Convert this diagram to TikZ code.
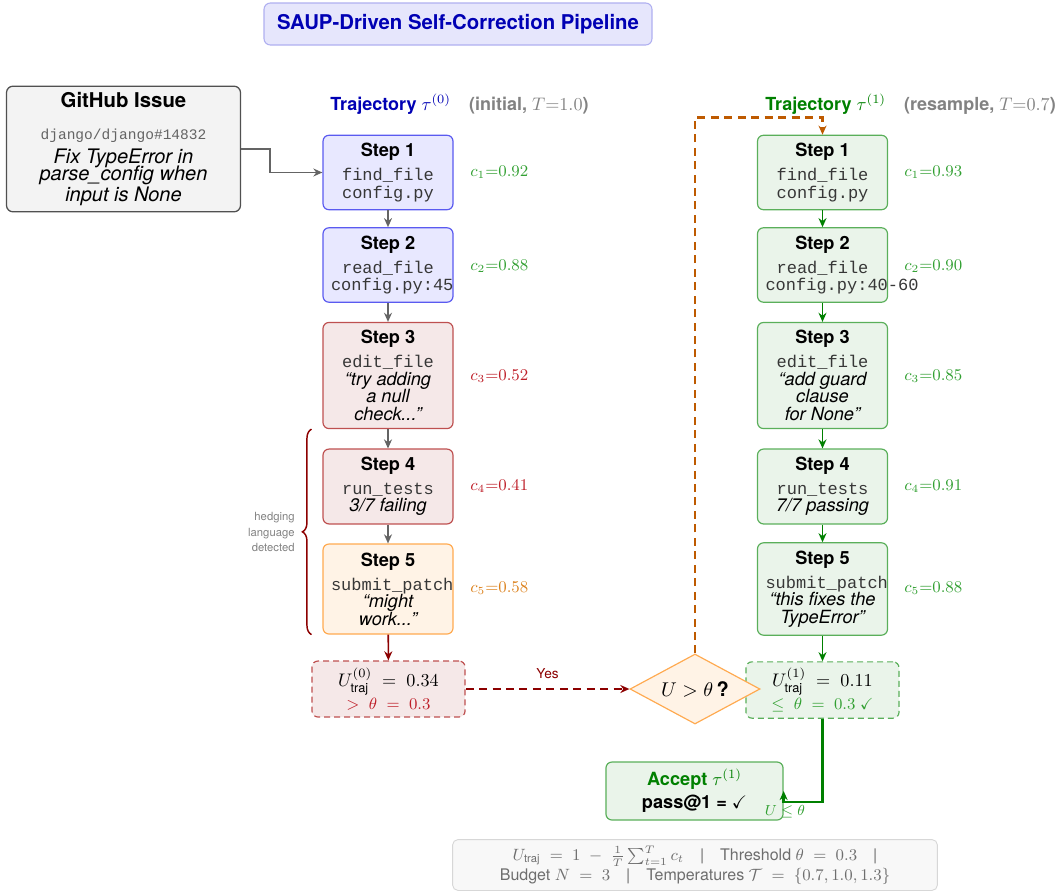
\documentclass[tikz,border=0pt]{standalone}
\usepackage{amsmath}
\usepackage{amssymb}
\usepackage[no-math]{fontspec}
\setmainfont{TeX Gyre Heros}
\setmonofont{Liberation Mono}
\usetikzlibrary{arrows.meta,shapes.geometric,decorations.pathreplacing,calc}

\definecolor{titleblue}{RGB}{0,0,180}
\definecolor{titlefill}{RGB}{230,230,252}
\definecolor{titleline}{RGB}{175,175,240}
\definecolor{issuefill}{RGB}{243,243,243}
\definecolor{issueline}{RGB}{80,80,80}
\definecolor{bluefill}{RGB}{232,232,255}
\definecolor{blueline}{RGB}{90,90,240}
\definecolor{redfill}{RGB}{245,232,232}
\definecolor{redline}{RGB}{190,80,80}
\definecolor{orangefill}{RGB}{255,243,230}
\definecolor{orangeline}{RGB}{255,170,80}
\definecolor{greenfill}{RGB}{234,244,234}
\definecolor{greenline}{RGB}{90,175,90}
\definecolor{cgreen}{RGB}{50,160,50}
\definecolor{cred}{RGB}{190,30,40}
\definecolor{corange}{RGB}{220,130,30}
\definecolor{darkgreen}{RGB}{0,128,0}
\definecolor{darkred}{RGB}{140,0,0}
\definecolor{loopbrown}{RGB}{190,90,0}
\definecolor{flowgray}{RGB}{100,100,100}
\definecolor{headgray}{RGB}{130,130,130}
\definecolor{tooltext}{RGB}{55,55,55}
\definecolor{legendfill}{RGB}{248,248,248}
\definecolor{legendline}{RGB}{215,215,215}
\definecolor{legendtext}{RGB}{110,110,110}

\newcommand{\tool}[1]{\mbox{\fontsize{9.35}{9.6}\selectfont\ttfamily\color{tooltext}#1}}
\newcommand{\tightlines}{\lineskiplimit=-5pt\relax}

\tikzset{
  titlebox/.style={draw=titleline, fill=titlefill, rounded corners=3.5pt, line width=0.6pt,
    minimum width=213.4pt, minimum height=23.1pt, text=titleblue,
    font=\fontsize{11.2}{13}\selectfont\bfseries},
  issuebox/.style={draw=issueline, fill=issuefill, rounded corners=3.5pt, line width=0.7pt,
    text width=122pt, minimum height=66pt, align=flush center, font=\fontsize{11}{9.6}\selectfont},
  stepbox/.style={rounded corners=3.3pt, line width=0.65pt, text width=62.7pt, inner sep=4.4pt,
    align=flush center, font=\fontsize{10}{9.6}\selectfont},
  bluestep/.style={stepbox, draw=blueline, fill=bluefill},
  redstep/.style={stepbox, draw=redline, fill=redfill},
  orangestep/.style={stepbox, draw=orangeline, fill=orangefill},
  greenstep/.style={stepbox, draw=greenline, fill=greenfill},
  header/.style={anchor=west, font=\fontsize{9.9}{11}\selectfont\bfseries},
  clabel/.style={anchor=west, font=\fontsize{9}{10}\selectfont},
  ubox/.style={dashed, dash pattern=on 3.3pt off 2.2pt, rounded corners=3.3pt, line width=0.65pt,
    minimum width=84.2pt, minimum height=30.8pt, align=center, font=\fontsize{10}{11}\selectfont},
  flow/.style={->, line width=0.85pt},
  bigdash/.style={line width=1.4pt, dash pattern=on 4.4pt off 3pt},
}

\begin{document}
\begin{tikzpicture}[x=0.55pt,y=-0.55pt,>={Stealth[length=5pt,width=4.4pt]}]
\useasboundingbox (0,0) rectangle (1057,892);

% title and input
\node[titlebox] (title) at (458,24) {SAUP-Driven Self-Correction Pipeline};
\node[issuebox] (issue) at (123.5,149) {\tightlines{\fontsize{11.2}{12}\selectfont\bfseries GitHub Issue}\\[8pt]
  {\fontsize{8}{9}\selectfont\ttfamily\color{flowgray}django/django\#14832}\\[3.5pt]
  \itshape Fix TypeError in\\parse\_config when\\input is None};

% headers
\node[header] (head0) at (324,104) {{\color{titleblue}Trajectory $\tau^{(0)}$}\quad{\color{headgray}(initial, $T{=}1.0$)}};
\node[header] (head1) at (759,104) {{\color{darkgreen}Trajectory $\tau^{(1)}$}\quad{\color{headgray}(resample, $T{=}0.7$)}};

% initial trajectory
\node[bluestep, minimum height=39pt] (a1) at (388,172.5) {\tightlines{\bfseries Step 1}\\[3.6pt]\tool{find\_file}\\\tool{config.py}};
\node[bluestep, minimum height=38.5pt] (a2) at (388,265) {\tightlines{\bfseries Step 2}\\[3.6pt]\tool{read\_file}\\\tool{config.py:45}};
\node[redstep, minimum height=57.75pt] (a3) at (388,375.5) {\tightlines{\bfseries Step 3}\\[3.6pt]\tool{edit\_file}\\\itshape ``try adding\\a null\\check...''};
\node[redstep, minimum height=39pt] (a4) at (388,486.5) {\tightlines{\bfseries Step 4}\\[3.6pt]\tool{run\_tests}\\\itshape 3/7 failing};
\node[orangestep, minimum height=49.5pt] (a5) at (388,589) {\tightlines{\bfseries Step 5}\\[3.6pt]\tool{submit\_patch}\\\itshape ``might\\work...''};

\node[clabel, text=cgreen] (ca1) at (464,172) {$c_1{=}0.92$};
\node[clabel, text=cgreen] (ca2) at (464,266) {$c_2{=}0.88$};
\node[clabel, text=cred] (ca3) at (464,376) {$c_3{=}0.52$};
\node[clabel, text=cred] (ca4) at (464,486) {$c_4{=}0.41$};
\node[clabel, text=corange] (ca5) at (464,588) {$c_5{=}0.58$};

% resampled trajectory
\node[greenstep, minimum height=39pt] (b1) at (822.5,172.5) {\tightlines{\bfseries Step 1}\\[3.6pt]\tool{find\_file}\\\tool{config.py}};
\node[greenstep, minimum height=38.5pt] (b2) at (822.5,265) {\tightlines{\bfseries Step 2}\\[3.6pt]\tool{read\_file}\\\tool{config.py:40-60}};
\node[greenstep, minimum height=57.75pt] (b3) at (822.5,375.5) {\tightlines{\bfseries Step 3}\\[3.6pt]\tool{edit\_file}\\\itshape ``add guard\\clause\\for None''};
\node[greenstep, minimum height=39pt] (b4) at (822.5,486.5) {\tightlines{\bfseries Step 4}\\[3.6pt]\tool{run\_tests}\\\itshape 7/7 passing};
\node[greenstep, minimum height=49.5pt] (b5) at (822.5,589) {\tightlines{\bfseries Step 5}\\[3.6pt]\tool{submit\_patch}\\\itshape ``this fixes the\\TypeError''};

\node[clabel, text=cgreen] (cb1) at (898,172) {$c_1{=}0.93$};
\node[clabel, text=cgreen] (cb2) at (898,266) {$c_2{=}0.90$};
\node[clabel, text=cgreen] (cb3) at (898,376) {$c_3{=}0.85$};
\node[clabel, text=cgreen] (cb4) at (898,486) {$c_4{=}0.91$};
\node[clabel, text=cgreen] (cb5) at (898,588) {$c_5{=}0.88$};

% scores, check, accept
\node[ubox, draw=redline, fill=redfill] (u0) at (388.5,689) {$U^{(0)}_{\text{traj}}\;=\;0.34$\\[1.5pt]{\fontsize{8.8}{9}\selectfont\color{cred}$>\;\theta\;=\;0.3$}};
\node[ubox, draw=greenline, fill=greenfill] (u1) at (822.5,690) {$U^{(1)}_{\text{traj}}\;=\;0.11$\\[1.5pt]{\fontsize{8.8}{9}\selectfont\color{cgreen}$\leq\;\theta\;=\;0.3\;\checkmark$}};
\node[diamond, draw=orangeline, fill=orangefill, line width=0.65pt, aspect=1.86, inner sep=0pt,
  minimum width=71.5pt, minimum height=38.5pt, font=\fontsize{11}{11}\selectfont] (check) at (695,689) {$U>\theta$\,\textbf{?}};
\node[draw=greenline, fill=greenfill, rounded corners=3.3pt, line width=0.65pt, minimum width=97.4pt,
  minimum height=31.9pt, align=center, font=\fontsize{10}{11}\selectfont\bfseries] (accept) at (694.5,791)
  {{\color{darkgreen}Accept $\tau^{(1)}$}\\[2pt]pass@1 = $\checkmark$};

% hedging brace
\draw[darkred, line width=0.8pt, decorate, decoration={brace, amplitude=5pt}]
  ([xshift=-6pt]a5.south west) -- ([xshift=-6pt]a3.south west);
\node[anchor=east, align=right, text=headgray, font=\fontsize{6.2}{8.5}\selectfont] (hedge) at (301,532) {hedging\\language\\detected};

% connectors
\draw[flow, flowgray] (issue.east) -- ++(29,0) |- (a1.west);
\draw[flow, flowgray] (a1) -- (a2);
\draw[flow, flowgray] (a2) -- (a3);
\draw[flow, flowgray] (a3) -- (a4);
\draw[flow, flowgray] (a4) -- (a5);
\draw[flow, darkred] (a5) -- (u0);
\draw[flow, darkgreen] (b1) -- (b2);
\draw[flow, darkgreen] (b2) -- (b3);
\draw[flow, darkgreen] (b3) -- (b4);
\draw[flow, darkgreen] (b4) -- (b5);
\draw[flow, darkgreen] (b5) -- (u1);
\draw[flow, darkred, bigdash] (u0) -- node[above=1.5pt, text=darkred, font=\fontsize{7.5}{8}\selectfont] (yes) {Yes} (check);
\draw[flow, loopbrown, bigdash] (check.north) |- ([yshift=9.35pt]b1.north) -- (b1.north);
\draw[flow, darkgreen, line width=1.4pt] (u1.south) |- ([yshift=-6pt]accept.east) -- (accept.east);
\node[text=cgreen, font=\fontsize{8}{9}\selectfont] (ulab) at (785,812) {$U\leq\theta$};

% legend
\node[draw=legendline, fill=legendfill, rounded corners=3pt, line width=0.5pt, text width=260pt,
  minimum height=27.5pt, align=flush center, text=legendtext, font=\fontsize{8.8}{8.25}\selectfont] (legend) at (695,865)
  {\tightlines$U_{\text{traj}}\;=\;1\;-\;\frac{1}{T}\sum_{t=1}^{T}c_t$\quad|\quad Threshold $\theta\;=\;0.3$\quad|\\
   Budget $N\;=\;3$\quad|\quad Temperatures $\mathcal{T}\;=\;\{0.7,1.0,1.3\}$};
\end{tikzpicture}
\end{document}
